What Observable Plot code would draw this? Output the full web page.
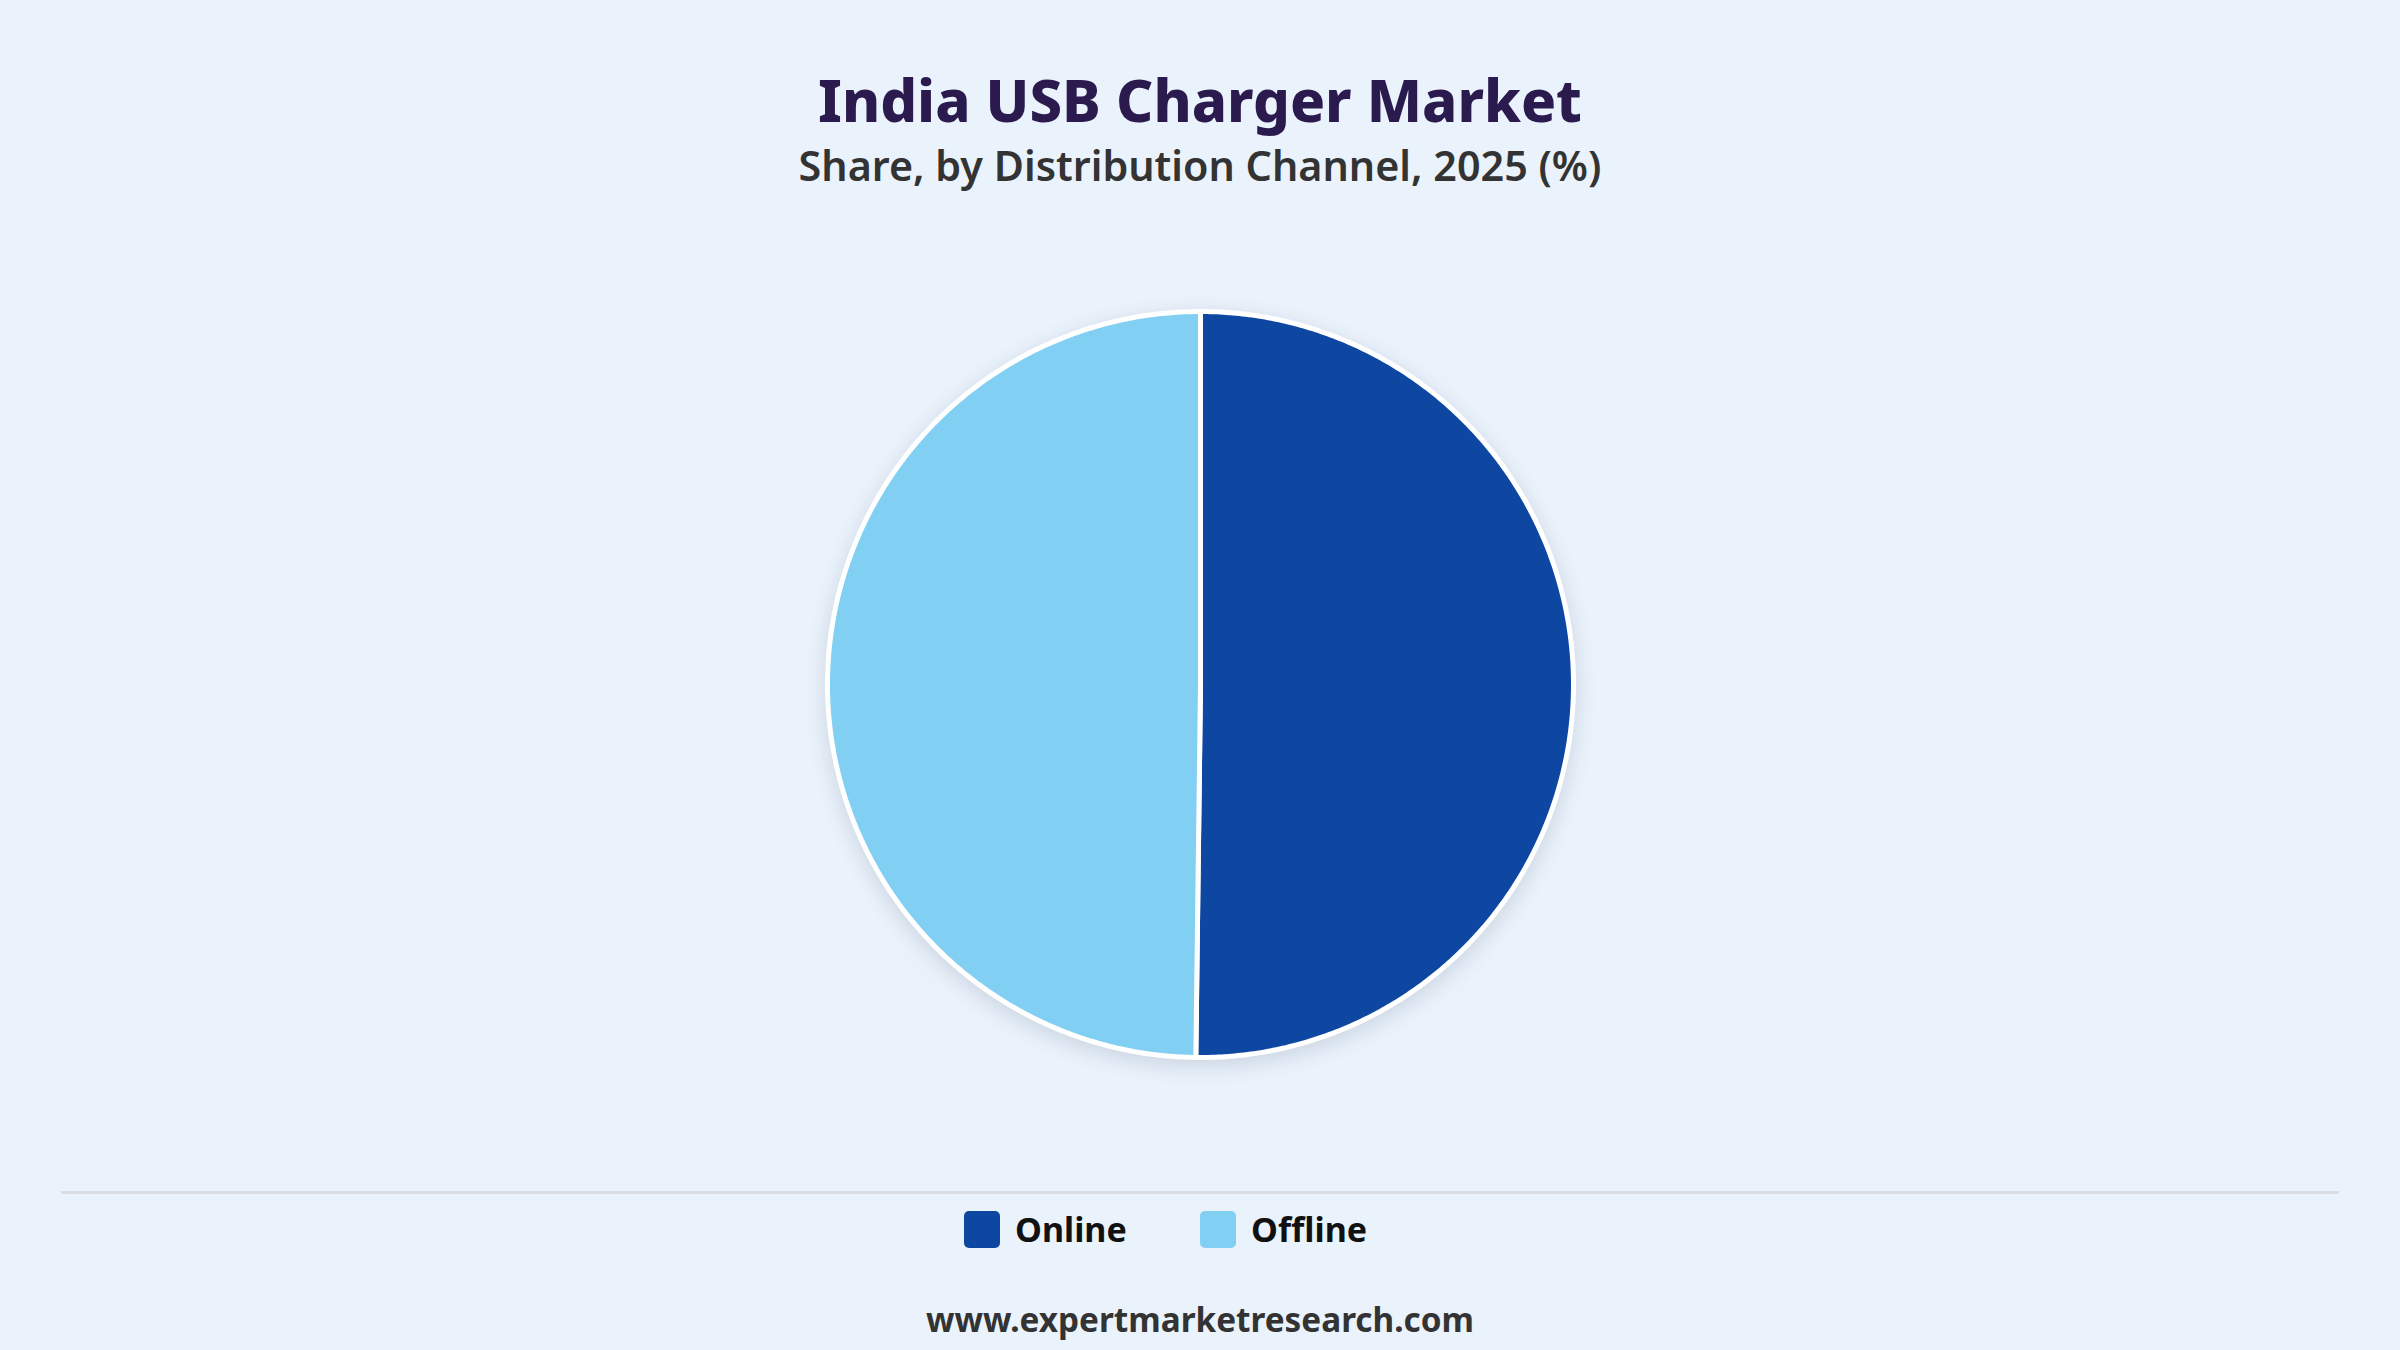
<!DOCTYPE html>
<html>
<head>
<meta charset="utf-8">
<script src="https://cdn.jsdelivr.net/npm/d3@7"></script>
<script src="https://cdn.jsdelivr.net/npm/@observablehq/plot@0.6"></script>
<style>
  html, body { margin: 0; padding: 0; }
  body { width: 2400px; height: 1350px; background: #EAF2FB; position: relative; overflow: hidden; font-family: "Noto Sans", "Open Sans", sans-serif; }
  .title { position: absolute; left: 0; width: 2400px; text-align: center; top: 60px; font-size: 58px; font-weight: 800; color: #2B1A4E; line-height: 80px; }
  .subtitle { position: absolute; left: 0; width: 2400px; text-align: center; top: 137px; font-size: 41.3px; font-weight: 600; color: #333333; line-height: 56px; }
  #chart { position: absolute; left: 0; top: 204px; }
  #chart svg g[aria-label="geo"] { filter: drop-shadow(0px 6px 10px rgba(40,60,90,0.16)); }
  .sep { position: absolute; left: 61px; width: 2278px; top: 1191px; height: 3px; background: #DADDE2; }
  .legend { position: absolute; left: 964px; top: 1206px; height: 46px; }
  .legend .item { position: absolute; top: 0; height: 46px; display: flex; align-items: center; gap: 15px; font-size: 34px; font-weight: 700; color: #111111; white-space: nowrap; }
  .legend .sw { width: 36px; height: 37px; border-radius: 5px; }
  .footer { position: absolute; left: 0; width: 2400px; text-align: center; top: 1294px; font-size: 33.3px; font-weight: 700; color: #333333; line-height: 50px; }
</style>
</head>
<body>
<div class="title">India USB Charger Market</div>
<div class="subtitle">Share, by Distribution Channel, 2025 (%)</div>
<div id="chart"></div>
<div class="sep"></div>
<div class="legend" id="legend"></div>
<div class="footer">www.expertmarketresearch.com</div>
<script>
const channels = ["Online", "Offline"];
const shares = [50.2, 49.8];
const colors = ["#0E47A1", "#81CFF2"];

// Wedges as spherical polygons seen from the north pole (polar view):
// angle clockwise from 12 o'clock -> longitude = 180 - angle, equator = pie rim.
const arcs = d3.pie().sort(null).value(d => d)(shares);
const features = arcs.map((a, i) => {
  const t0 = a.startAngle * 180 / Math.PI;
  const t1 = a.endAngle * 180 / Math.PI;
  const n = Math.max(2, Math.ceil((t1 - t0) / 0.5));
  let ring = [[180 - t0, 89.9999]];
  for (let k = 0; k <= n; k++) {
    const t = t0 + (t1 - t0) * k / n;
    ring.push([180 - t, 0]);
  }
  ring.push([180 - t1, 89.9999]);
  ring.push(ring[0]);
  let f = {type: "Feature", properties: {channel: channels[i], share: shares[i]}, geometry: {type: "Polygon", coordinates: [ring]}};
  if (d3.geoArea(f) > 2 * Math.PI) {
    ring = ring.slice().reverse();
    f = {type: "Feature", properties: {channel: channels[i], share: shares[i]}, geometry: {type: "Polygon", coordinates: [ring]}};
  }
  return f;
});

const rim = d3.geoCircle().center([0, 90]).radius(90)();

const chart = Plot.plot({
  width: 2400,
  height: 960,
  marginTop: 107,
  marginBottom: 107,
  marginLeft: 0,
  marginRight: 0,
  style: {background: "transparent", overflow: "visible"},
  projection: {type: "azimuthal-equidistant", rotate: [0, -90], domain: rim},
  color: {domain: channels, range: colors},
  marks: [
    Plot.geo(features, {fill: d => d.properties.channel, stroke: "white", strokeWidth: 5, strokeLinejoin: "round"})
  ]
});
document.getElementById("chart").appendChild(chart);

const legend = document.getElementById("legend");
const offsets = [0, 236];
channels.forEach((c, i) => {
  const item = document.createElement("div");
  item.className = "item";
  item.style.left = offsets[i] + "px";
  const sw = document.createElement("div");
  sw.className = "sw";
  sw.style.background = colors[i];
  const lb = document.createElement("span");
  lb.textContent = c;
  item.appendChild(sw);
  item.appendChild(lb);
  legend.appendChild(item);
});
</script>
</body>
</html>
